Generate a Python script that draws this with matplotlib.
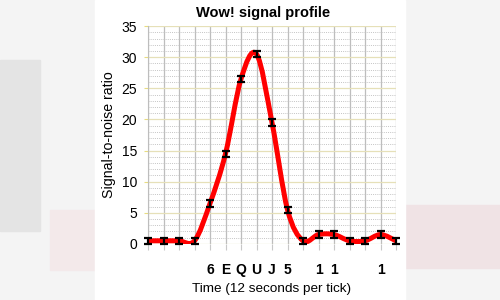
import matplotlib
matplotlib.use("Agg")
import matplotlib.pyplot as plt
from matplotlib.path import Path
from matplotlib.patches import PathPatch, Rectangle
import numpy as np

plt.rcParams["font.family"] = ["Liberation Sans", "DejaVu Sans"]

# Wow! signal intensity per 12 s tick
snr = [0.5, 0.5, 0.5, 0.5, 6.5, 14.5, 26.5, 30.5, 19.5, 5.5,
       0.5, 1.5, 1.5, 0.5, 0.5, 1.5, 0.5]
err = [0.5] * len(snr)
tick_labels = ["", "", "", "", "6", "E", "Q", "U", "J", "5",
               "", "1", "1", "", "", "1", ""]

ticks = np.arange(len(snr))
y = np.array(snr, dtype=float)

fig = plt.figure(figsize=(5, 3), dpi=100, facecolor="#f4f4f4")

# soft backdrop strips around the chart
for (x0, y0, w, h, c) in [(0, 0.23, 0.08, 0.57, "#e4e4e4"),
                          (0.1, 0.1, 0.1, 0.2, "#f3e9ea"),
                          (0.8, 0.107, 0.2, 0.21, "#f0e3e5"),
                          (0.19, 0.0, 0.62, 1.0, "white")]:
    fig.patches.append(Rectangle((x0, y0), w, h, transform=fig.transFigure,
                                 color=c, zorder=-5))

ax = fig.add_axes([0.296, 0.187, 0.496, 0.726])
ax.set_facecolor("white")

# smooth curve (Catmull-Rom as cubic Bezier segments)
pts = np.column_stack([ticks, y])
ext = np.vstack([pts[0], pts, pts[-1]])
verts = [tuple(pts[0])]
codes = [Path.MOVETO]
for i in range(len(pts) - 1):
    p0, p1, p2, p3 = ext[i], ext[i + 1], ext[i + 2], ext[i + 3]
    c1 = p1 + (p2 - p0) / 6
    c2 = p2 - (p3 - p1) / 6
    verts += [tuple(c1), tuple(c2), tuple(p2)]
    codes += [Path.CURVE4] * 3
ax.add_patch(PathPatch(Path(verts, codes), facecolor="none", edgecolor="#ff0000",
                       lw=3.6, capstyle="round", joinstyle="round", zorder=3))

ax.errorbar(ticks, y, yerr=err, fmt="none", ecolor="black", elinewidth=1.6,
            capsize=3, capthick=1.6, zorder=4, clip_on=False)

ax.set_xlim(0, 16)
ax.set_ylim(0, 35)
ax.set_xticks(ticks)
ax.set_xticklabels(tick_labels, fontweight="bold", fontsize=10)
ax.set_yticks(np.arange(0, 36, 5))
ax.set_yticks(np.arange(0, 36, 1), minor=True)
ax.tick_params(axis="y", which="major", labelsize=10, length=3, color="#e8dc80",
               pad=5)
ax.tick_params(axis="y", which="minor", length=0)
ax.tick_params(axis="x", length=4, color="#c8c8c8", pad=10)

ax.grid(True, axis="x", color="#bdbdbd", lw=0.9)
ax.grid(True, axis="y", which="major", color="#e6e0b8", lw=0.9)
ax.grid(True, axis="y", which="minor", color="#c4c4c4", lw=0.7, ls=(0, (1, 1.2)))
ax.set_axisbelow(True)
for s in ax.spines.values():
    s.set_visible(False)
ax.spines["left"].set_visible(True)
ax.spines["left"].set_color("#bdbdbd")

ax.set_ylabel("Signal-to-noise ratio", fontsize=10.2, labelpad=4)
ax.set_xlabel("Time (12 seconds per tick)", fontsize=9.7, labelpad=4)
fig.text(0.526, 0.957, "Wow! signal profile", ha="center", va="center",
         fontsize=10.5, fontweight="bold")

fig.savefig("out.png", dpi=100, facecolor=fig.get_facecolor())
